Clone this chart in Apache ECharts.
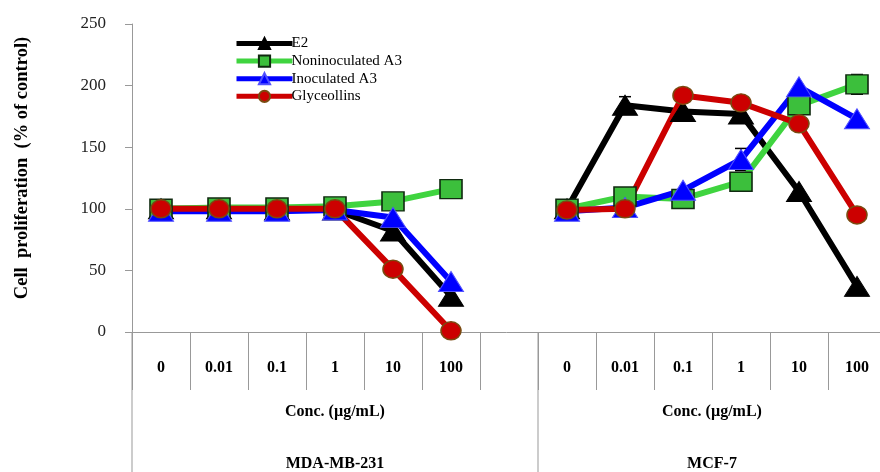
<!DOCTYPE html>
<html><head><meta charset="utf-8">
<script src="https://cdn.jsdelivr.net/npm/echarts@6/dist/echarts.min.js"></script>
<style>html,body{margin:0;padding:0;background:#fff}#c{width:880px;height:472px}</style>
</head><body><div id="c"></div>
<script>
const categories = ['0','0.01','0.1','1','10','100','','0','0.01','0.1','1','10','100'];
const groups = ['MDA-MB-231','MCF-7'];
const groupRanges = [[0,6],[7,12]];
const yTicks = [0,50,100,150,200,250];
const e2 = [100,100,99,99,82,29,null,100,184,179,177,114,37];
const nonino = [100,101,101,102,106,116,null,100,110,108,122,184,201];
const ino = [98,98,98,99,93,41,null,98,101,115,140,199,173];
const glyc = [100,100,100,100,51,1,null,99,100,192,186,169,95];
const e2Err = [0,0,0,0,0,0,null,0,7,0,0,0,0];
const noninoErr = [0,0,0,0,0,0,null,0,0,0,0,0,8];
const inoErr = [0,0,0,0,0,0,null,0,0,0,9,0,0];
const glycErr = [0,0,0,0,0,0,null,0,0,0,0,0,0];

const serif = 'Liberation Serif';
const chart = echarts.init(document.getElementById('c'));

function errSeries(vals, errs, color){
  const d = [];
  vals.forEach((v,i)=>{ if(v!=null && errs[i]) d.push([i, v-errs[i], v+errs[i]]); });
  return {
    type:'custom', data:d, z:1, silent:true,
    renderItem:(params, api)=>{
      const lo = api.coord([api.value(0), api.value(1)]);
      const hi = api.coord([api.value(0), api.value(2)]);
      const cw = 6;
      return {type:'group', children:[
        {type:'line', shape:{x1:lo[0],y1:lo[1],x2:hi[0],y2:hi[1]}, style:{stroke:color,lineWidth:1.5}},
        {type:'line', shape:{x1:hi[0]-cw,y1:hi[1],x2:hi[0]+cw,y2:hi[1]}, style:{stroke:color,lineWidth:1.5}},
        {type:'line', shape:{x1:lo[0]-cw,y1:lo[1],x2:lo[0]+cw,y2:lo[1]}, style:{stroke:color,lineWidth:1.5}}
      ]};
    }
  };
}

const option = {
  animation:false,
  backgroundColor:'#fff',
  grid:{left:132, top:24, width:754, bottom:140, containLabel:false, outerBoundsMode:'none'},
  legend:{
    orient:'vertical', left:229, top:31, itemWidth:56, itemHeight:14, itemGap:2.6,
    lineStyle:{width:5},
    textStyle:{fontFamily:serif, fontSize:15, color:'#000', padding:[0,0,0,-6]},
    data:['E2','Noninoculated A3','Inoculated A3','Glyceollins']
  },
  xAxis:{
    type:'category', data:categories, boundaryGap:true,
    axisLine:{lineStyle:{color:'#999', width:1}},
    axisTick:{show:true, interval:0, length:58, alignWithLabel:false, lineStyle:{color:'#999'}},
    axisLabel:{interval:0, margin:28, fontFamily:serif, fontWeight:'bold', fontSize:16, color:'#000'}
  },
  yAxis:{
    type:'value', min:0, max:250, interval:50,
    name:'Cell  proliferation  (% of control)', nameLocation:'middle', nameGap:100, nameRotate:90,
    nameTextStyle:{fontFamily:serif, fontWeight:'bold', fontSize:18.5, color:'#000', padding:[0,0,0,20]},
    axisLine:{show:true, lineStyle:{color:'#999'}},
    axisTick:{show:true, inside:false, length:7, lineStyle:{color:'#999'}},
    axisLabel:{margin:26, fontFamily:serif, fontSize:17, color:'#222'},
    splitLine:{show:false}
  },
  series:[
    errSeries(e2, e2Err, '#000'),
    errSeries(nonino, noninoErr, '#000'),
    errSeries(ino, inoErr, '#000'),
    errSeries(glyc, glycErr, '#000'),
    {name:'E2', type:'line', data:e2, connectNulls:false, symbol:'triangle', symbolSize:[25,20],
     lineStyle:{color:'#000', width:6}, itemStyle:{color:'#000', borderColor:'#000', borderWidth:1}},
    {name:'Noninoculated A3', type:'line', data:nonino, connectNulls:false, symbol:'rect', symbolSize:[22,19],
     lineStyle:{color:'#3fd43f', width:6}, itemStyle:{color:'#3cbf3c', borderColor:'#102a10', borderWidth:1.5}},
    {name:'Inoculated A3', type:'line', data:ino, connectNulls:false, symbol:'triangle', symbolSize:[25,20],
     lineStyle:{color:'#0000ff', width:6}, itemStyle:{color:'#0000ff', borderColor:'#5050ff', borderWidth:1}},
    {name:'Glyceollins', type:'line', data:glyc, connectNulls:false, symbol:'circle', symbolSize:[20,18],
     lineStyle:{color:'#cc0000', width:6}, itemStyle:{color:'#cc0000', borderColor:'#7a4a10', borderWidth:1.5}}
  ]
};
chart.setOption(option);

// group separators and group labels derived from the category axis
const c = i => chart.convertToPixel({xAxisIndex:0}, i);
const bandW = c(1) - c(0);
const axisY = chart.convertToPixel({yAxisIndex:0}, 0);
const H = chart.getHeight();
const gfx = [];
groupRanges.forEach((r, gi)=>{
  const left = c(r[0]) - bandW/2;
  const right = c(r[1]) + bandW/2;
  const mid = (left + right)/2;
  gfx.push({type:'line', shape:{x1:left, y1:axisY, x2:left, y2:H}, style:{stroke:'#999', lineWidth:1}});
  gfx.push({type:'text', x:mid, y:axisY+80, style:{text:'Conc. (µg/mL)', fontFamily:serif, fontWeight:'bold', fontSize:16, fill:'#000', align:'center', verticalAlign:'middle'}});
  gfx.push({type:'text', x:mid, y:axisY+132, style:{text:groups[gi], fontFamily:serif, fontWeight:'bold', fontSize:16, fill:'#000', align:'center', verticalAlign:'middle'}});
});
chart.setOption({graphic:gfx});
</script></body></html>
